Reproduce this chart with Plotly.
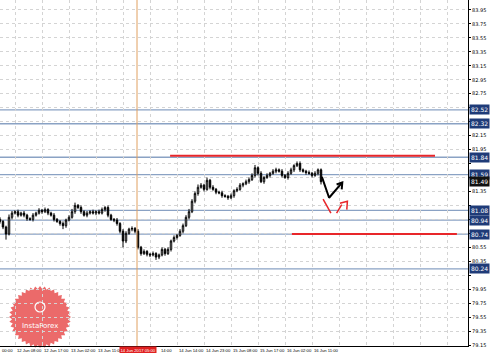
import numpy as np
import plotly.graph_objects as go

# ---------------- data ----------------
closes = [80.92, 80.84, 80.74, 80.98, 81.04, 81.06, 81.01, 81.04, 81.01, 80.96,
          80.95, 81.01, 81.04, 81.08, 81.06, 81.09, 81.04, 81.01, 80.95, 80.92,
          80.89, 80.86, 80.94, 80.98, 81.06, 81.15, 81.12, 81.06, 81.01, 81.04,
          81.06, 81.04, 81.06, 81.04, 81.09, 81.12, 81.01, 80.95, 80.94, 80.89,
          80.78, 80.64, 80.75, 80.81, 80.82, 80.78, 80.55, 80.46, 80.49, 80.45,
          80.44, 80.46, 80.41, 80.44, 80.52, 80.46, 80.52, 80.64, 80.69, 80.72,
          80.78, 80.86, 80.98, 81.06, 81.21, 81.32, 81.41, 81.44, 81.38, 81.51,
          81.41, 81.38, 81.34, 81.33, 81.29, 81.28, 81.26, 81.29, 81.36, 81.38,
          81.44, 81.46, 81.49, 81.52, 81.58, 81.69, 81.61, 81.49, 81.55, 81.58,
          81.61, 81.64, 81.66, 81.64, 81.58, 81.55, 81.61, 81.66, 81.72, 81.75,
          81.66, 81.64, 81.62, 81.61, 81.58, 81.61, 81.66, 81.49]
first_open = 80.95
wick_hi = [3,2,2,4,3,2,3,2,3,2, 2,3,2,3,2,3,2,2,3,2, 2,3,2,3,4,4,2,3,2,3,
           2,3,2,3,3,2,3,2,2,3, 2,3,3,2,3,2,3,2,3,2, 2,3,2,2,3,2,3,2,3,2,
           3,3,3,4,3,3,4,3,2,4, 2,3,2,2,3,2,2,3,2,3, 3,2,3,3,3,4,2,3,2,3,
           2,3,3,2,3,2,3,3,2,3, 3,2,2,3,2,3,2,2]
wick_lo = [3,3,8,2,3,2,3,2,3,3, 2,3,2,2,3,2,3,2,3,2, 3,5,3,2,2,3,2,3,2,3,
           2,2,3,2,2,3,3,2,3,3, 3,9,3,2,3,3,3,3,2,3, 3,2,4,3,2,3,2,3,2,3,
           2,3,2,3,2,3,3,2,3,2, 3,2,3,2,3,2,3,2,3,2, 2,3,2,3,2,3,3,2,3,2,
           3,2,3,2,3,2,3,2,3,2, 3,2,3,2,3,2,3,4]

level_prices = [82.52, 82.32, 81.84, 81.59, 81.08, 80.94, 80.74, 80.24]
current_price = 81.49

red_line_prices = [81.86, 80.74]
red_line_start = [56.7, 97.3]
red_line_end = [145.0, 152.3]

vline_index = 45.67
vline_label = "14 Jun 2017 05:00"

black_arrow_x = [107.3, 109.7, 114.1, None, 112.2, 114.1, 113.9]
black_arrow_y = [81.56, 81.26, 81.48, None, 81.45, 81.48, 81.38]
red_arrow_x = [107.7, 110.3, None, 112.2, 113.9, None, 113.3, 115.8, 115.6]
red_arrow_y = [81.24, 81.04, None, 81.04, 81.16, None, 81.18, 81.21, 81.09]

y_ticks = [79.15, 79.35, 79.55, 79.75, 79.95, 80.15, 80.35, 80.55, 80.75, 80.95,
           81.15, 81.35, 81.55, 81.75, 81.95, 82.15, 82.35, 82.55, 82.75, 82.95,
           83.15, 83.35, 83.55, 83.75, 83.95]
grid_x = [5, 14, 23, 32, 41, 50, 59, 68, 77, 86, 95, 104, 113, 122, 131, 140, 149]
time_label_x = [5, 14, 23, 32, 53, 59, 68, 77, 86, 95, 104]
time_labels = ["12 Jun 08:00", "12 Jun 17:00", "13 Jun 02:00", "13 Jun 11:00",
               "14:00", "14 Jun 14:00", "14 Jun 23:00", "15 Jun 08:00",
               "15 Jun 17:00", "16 Jun 02:00", "16 Jun 11:00"]

# ---------------- build OHLC ----------------
idx = list(range(len(closes)))
opens = [first_open] + closes[:-1]
highs = [max(o, c) + w / 100 for o, c, w in zip(opens, closes, wick_hi)]
lows = [min(o, c) - w / 100 for o, c, w in zip(opens, closes, wick_lo)]

FONT = "DejaVu Sans"
TFONT = "Liberation Sans"
fig = go.Figure()
fig.add_trace(go.Candlestick(
    x=idx, open=opens, high=highs, low=lows, close=closes,
    increasing=dict(line=dict(color="#000000", width=1), fillcolor="#ffffff"),
    decreasing=dict(line=dict(color="#000000", width=1), fillcolor="#000000"),
    hoverinfo="skip", whiskerwidth=0,
))

# level lines
for p in level_prices:
    fig.add_shape(type="line", xref="paper", x0=0, x1=1, yref="y", y0=p, y1=p,
                  line=dict(color="#8aa2c4", width=1.3), layer="below")
    fig.add_annotation(xref="paper", x=1, xshift=1, xanchor="left", yref="y", y=p,
                       text="%.2f" % p, showarrow=False, bgcolor="#1f3b78",
                       font=dict(color="white", size=6, family=FONT), borderpad=1)
fig.add_annotation(xref="paper", x=1, xshift=1, xanchor="left", yref="y", y=current_price,
                   text="%.2f" % current_price, showarrow=False, bgcolor="#111111",
                   font=dict(color="white", size=6, family=FONT), borderpad=1)

# red lines
for p, a, b in zip(red_line_prices, red_line_start, red_line_end):
    fig.add_trace(go.Scatter(x=[a, b], y=[p, p], mode="lines",
                             line=dict(color="#e8262a", width=2), hoverinfo="skip"))

# vertical line
fig.add_shape(type="line", xref="x", x0=vline_index, x1=vline_index, yref="paper", y0=0, y1=1,
              line=dict(color="#e0a060", width=1))

# arrows
fig.add_trace(go.Scatter(x=black_arrow_x, y=black_arrow_y, mode="lines",
                         line=dict(color="#000000", width=2), hoverinfo="skip"))
fig.add_trace(go.Scatter(x=red_arrow_x, y=red_arrow_y, mode="lines",
                         line=dict(color="#e8262a", width=1.5), hoverinfo="skip"))

# time labels
for xv, t in zip(time_label_x, time_labels):
    fig.add_annotation(xref="x", x=xv, xanchor="left", yref="paper", y=0, yanchor="top",
                       yshift=0, text=t, showarrow=False,
                       font=dict(color="#000000", size=4.2, family=TFONT))
fig.add_annotation(xref="paper", x=0, xanchor="left", yref="paper", y=0, yanchor="top",
                   yshift=0, text="00:00", showarrow=False,
                   font=dict(color="#000000", size=4.2, family=TFONT))
fig.add_annotation(xref="x", x=vline_index, xshift=1, yref="paper", y=0, yanchor="top",
                   yshift=0, text=vline_label, showarrow=False, bgcolor="#e02020",
                   font=dict(color="white", size=4.2, family=TFONT), borderpad=0.5)

# InstaForex logo (decoration)
W, H = 468.0, 346.0
cx, cy, R1, R2, n = 40, 317, 31, 28, 40
pts = []
for k in range(2 * n):
    ang = np.pi * k / n
    r = R1 if k % 2 == 0 else R2
    pts.append(((cx + r * np.cos(ang)) / W, 1 - (cy + r * np.sin(ang)) / H))
path = "M " + " L ".join("%.4f,%.4f" % p for p in pts) + " Z"
fig.add_shape(type="path", path=path, xref="paper", yref="paper",
              fillcolor="rgba(232,80,80,0.85)", line=dict(width=0), layer="below")
fig.add_shape(type="circle", xref="paper", yref="paper",
              x0=(cx - 5) / W, x1=(cx + 5) / W, y0=1 - (307 + 5) / H, y1=1 - (307 - 5) / H,
              line=dict(color="white", width=1.2))
fig.add_annotation(xref="paper", yref="paper", x=cx / W, y=1 - 326 / H, xanchor="center",
                   yanchor="middle", text="InstaForex", showarrow=False,
                   font=dict(color="white", size=7, family=FONT))

# hide tick texts hidden under the level labels (as in the reference)
covered = level_prices + [current_price]
tick_text = ["" if any(abs(v - c) < 0.1 for c in covered) else "%.2f" % v for v in y_ticks]

fig.update_layout(
    width=499, height=353, margin=dict(l=0, r=31, t=0, b=7),
    plot_bgcolor="white", paper_bgcolor="white", showlegend=False,
    xaxis=dict(range=[0, 156], tickvals=grid_x, showticklabels=False, showgrid=True,
               gridcolor="#d4d4d4", griddash="dot", gridwidth=1, zeroline=False,
               rangeslider=dict(visible=False), showline=True, linecolor="#000000",
               mirror=True, ticks=""),
    yaxis=dict(range=[79.136, 84.093], side="right", tickvals=y_ticks,
               ticktext=tick_text,
               tickfont=dict(size=5, color="#000000", family=FONT),
               showgrid=True, gridcolor="#d4d4d4", griddash="dot", gridwidth=1,
               zeroline=False, showline=True, linecolor="#000000", mirror=True,
               ticks="outside", ticklen=2, tickcolor="#000000"),
)

fig.write_html("out.html")
